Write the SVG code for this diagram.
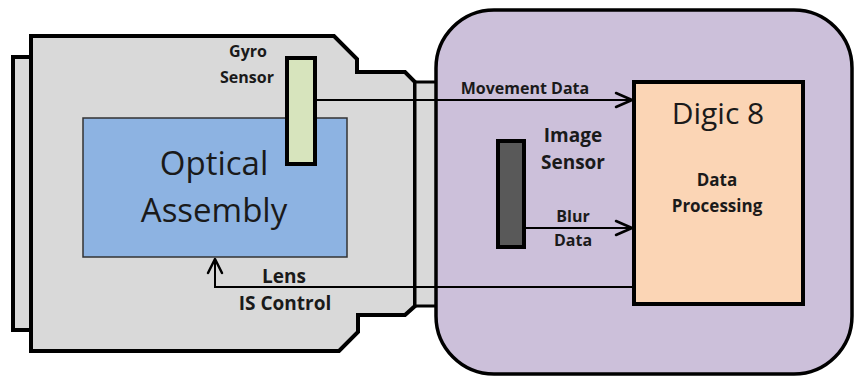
<svg xmlns="http://www.w3.org/2000/svg" width="857" height="377" viewBox="0 0 857 377">
<defs>
<style>
.thick{stroke:#000;stroke-width:4;stroke-linejoin:miter}
.gray{fill:#d9d9d9}
.lbl{font-family:"Open Sans","Liberation Sans",sans-serif;fill:#1a1a1a;text-anchor:middle}
.b{font-weight:bold}
.conn{fill:none;stroke:#000;stroke-width:2}
.head{fill:none;stroke:#000;stroke-width:2.5;stroke-linecap:round;stroke-linejoin:round}
</style>
</defs>
<g id="camera-body">
<rect x="13" y="57" width="18" height="273" class="gray thick"/>
<polygon points="31,36 334,36 357,59 357,72 405,72 415,82 415,306 405,315 358,315 358,332 339,351 31,351" class="gray thick"/>
<rect x="415" y="82" width="25" height="224" class="gray" stroke="#000" stroke-width="3"/>
</g>
<g id="processor-housing">
<rect x="436" y="10" width="416" height="364" rx="58" ry="58" fill="#ccc0da" stroke="#000" stroke-width="3.5"/>
</g>
<g id="optical-assembly">
<rect x="83" y="118" width="264" height="139" fill="#8db3e2" stroke="#333" stroke-width="1.5"/>
<text class="lbl" x="214" y="175" font-size="33">Optical</text>
<text class="lbl" x="214" y="222" font-size="33">Assembly</text>
</g>
<g id="gyro-sensor">
<rect x="287" y="58" width="28" height="106" fill="#d7e4bd" class="thick"/>
<text class="lbl b" x="248" y="57" font-size="16">Gyro</text>
<text class="lbl b" x="247" y="83" font-size="16">Sensor</text>
</g>
<g id="image-sensor">
<rect x="498" y="141" width="26" height="106" fill="#595959" class="thick"/>
<text class="lbl b" x="573" y="142" font-size="19">Image</text>
<text class="lbl b" x="573" y="169" font-size="19">Sensor</text>
</g>
<g id="digic-8">
<rect x="634" y="82" width="169" height="222" fill="#fbd5b5" class="thick"/>
<text class="lbl" x="718" y="124" font-size="30">Digic 8</text>
<text class="lbl b" x="717" y="186" font-size="17">Data</text>
<text class="lbl b" x="717" y="212" font-size="17">Processing</text>
</g>
<g id="connectors">
<path class="conn" d="M315,100 H632"/>
<path class="head" d="M616,93 L632,100 L616,107"/>
<path class="conn" d="M524,228 H632"/>
<path class="head" d="M616,221 L632,228 L616,235"/>
<path class="conn" d="M633,287 H215 V259"/>
<path class="head" d="M208,273 L215,259 L222,273"/>
<text class="lbl b" x="525" y="94" font-size="16">Movement Data</text>
<text class="lbl b" x="573" y="222" font-size="16">Blur</text>
<text class="lbl b" x="573" y="246" font-size="16">Data</text>
<text class="lbl b" x="284" y="283" font-size="19">Lens</text>
<text class="lbl b" x="285" y="310" font-size="19">IS Control</text>
</g>
</svg>
